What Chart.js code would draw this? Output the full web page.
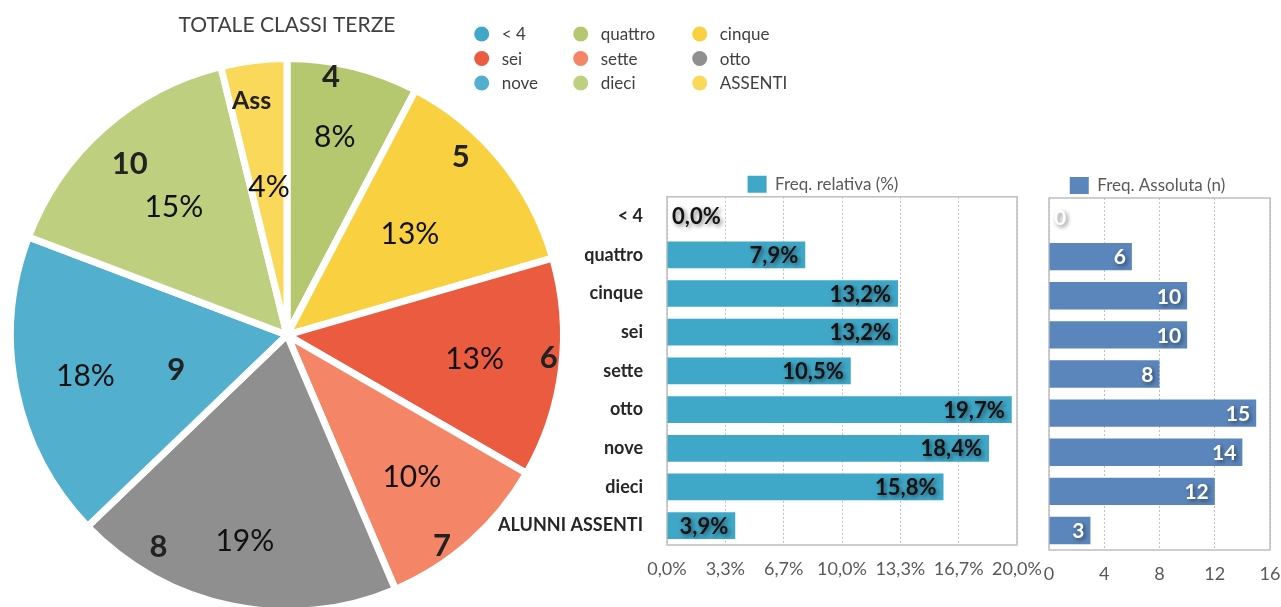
<!DOCTYPE html>
<html>
<head>
<meta charset="utf-8">
<script src="https://cdn.jsdelivr.net/npm/chart.js@4.4.1/dist/chart.umd.min.js"></script>
<style>
  html, body { margin: 0; padding: 0; background: #fff; width: 1281px; height: 607px; overflow: hidden; }
  .box { position: absolute; }
  #pieBox { left: 0; top: 0; width: 810px; height: 615px; }
  #relBox { left: 480px; top: 162px; width: 686px; height: 423px; }
  #absBox { left: 1025px; top: 167px; width: 256px; height: 423px; }
</style>
</head>
<body>
<div class="box" id="pieBox"><canvas id="pie"></canvas></div>
<div class="box" id="relBox"><canvas id="rel"></canvas></div>
<div class="box" id="absBox"><canvas id="abs"></canvas></div>
<script>
// dati
const categories = ['< 4', 'quattro', 'cinque', 'sei', 'sette', 'otto', 'nove', 'dieci', 'ALUNNI ASSENTI'];
const legendNames = ['< 4', 'quattro', 'cinque', 'sei', 'sette', 'otto', 'nove', 'dieci', 'ASSENTI'];
const sliceNames = ['<4', '4', '5', '6', '7', '8', '9', '10', 'Ass'];
const counts = [0, 6, 10, 10, 8, 15, 14, 12, 3];
const relative = [0.0, 7.9, 13.2, 13.2, 10.5, 19.7, 18.4, 15.8, 3.9];
const relTickLabels = ['0,0%', '3,3%', '6,7%', '10,0%', '13,3%', '16,7%', '20,0%'];
const absTickLabels = ['0', '4', '8', '12', '16'];

const sliceColors = ['#41A7C8', '#B5C76F', '#F9D03F', '#EA5B40', '#F48566', '#8F8F8F', '#52B0CE', '#BFCF80', '#FAD85A'];

Chart.defaults.font.family = 'Lato';

// posizione etichette fette: [frazione angolo, frazione raggio]
const namePos = [[0.5, 0.5], [0.35, 0.946], [0.36, 0.90], [0.46, 0.95], [0.64, 0.946], [0.785, 0.895], [0.41, 0.42], [0.48, 0.84], [0.38, 0.856]];
const pctPos = [[0.5, 0.5], [0.49, 0.736], [0.5, 0.574], [0.51, 0.684], [0.51, 0.686], [0.5, 0.762], [0.5, 0.744], [0.5, 0.617], [0.5, 0.538]];

const sliceLabels = {
  id: 'sliceLabels',
  afterDatasetsDraw(chart) {
    const ctx = chart.ctx;
    const data = chart.data.datasets[0].data;
    const total = data.reduce((a, b) => a + b, 0);
    ctx.save();
    ctx.textAlign = 'center';
    ctx.textBaseline = 'middle';
    chart.getDatasetMeta(0).data.forEach((arc, i) => {
      if (!data[i]) return;
      const put = (pos, text, font, color) => {
        const a = arc.startAngle + (arc.endAngle - arc.startAngle) * pos[0];
        const r = arc.outerRadius * pos[1];
        ctx.font = font;
        ctx.fillStyle = color;
        ctx.fillText(text, arc.x + Math.cos(a) * r, arc.y + Math.sin(a) * r);
      };
      put(namePos[i], sliceNames[i], i === 8 ? 'bold 25px Lato' : 'bold 31px Lato', '#222');
      put(pctPos[i], Math.round(data[i] / total * 100) + '%', '30px Lato', '#111');
    });
    ctx.restore();
  }
};

// legenda a griglia 3x3
const gridLegend = {
  id: 'gridLegend',
  afterDraw(chart, args, opts) {
    const ctx = chart.ctx;
    const colors = chart.data.datasets[0].backgroundColor;
    ctx.save();
    ctx.font = '17px Lato';
    ctx.textAlign = 'left';
    ctx.textBaseline = 'middle';
    chart.data.labels.forEach((name, i) => {
      const x = opts.x + opts.cols[i % 3];
      const y = opts.y + opts.rowGap * Math.floor(i / 3);
      ctx.fillStyle = colors[i];
      ctx.beginPath();
      ctx.arc(x, y, 7.5, 0, Math.PI * 2);
      ctx.fill();
      ctx.fillStyle = '#404040';
      ctx.fillText(name, x + 20, y + 1);
    });
    ctx.restore();
  }
};

new Chart(document.getElementById('pie'), {
  type: 'pie',
  data: {
    labels: legendNames,
    datasets: [{ data: counts, backgroundColor: sliceColors, borderColor: '#fff', borderWidth: 7 }]
  },
  options: {
    responsive: true,
    maintainAspectRatio: false,
    animation: false,
    layout: { padding: { left: 7, right: 243, top: 0, bottom: 0 } },
    plugins: {
      legend: { display: false },
      tooltip: { enabled: false },
      title: {
        display: true, text: 'TOTALE CLASSI TERZE', fullSize: false, color: '#404040',
        font: { size: 21, weight: 'normal' }, padding: { top: 13, bottom: 16.8 }
      },
      gridLegend: { x: 481.7, y: 34, rowGap: 24.5, cols: [0, 99, 218] }
    }
  },
  plugins: [sliceLabels, gridLegend]
});

// riquadro area grafico
const plotBox = {
  id: 'plotBox',
  beforeDatasetsDraw(chart) {
    const { ctx, chartArea: a } = chart;
    ctx.save();
    ctx.strokeStyle = '#BFBFBF';
    ctx.lineWidth = 1.5;
    ctx.strokeRect(a.left, a.top, a.right - a.left, a.bottom - a.top);
    ctx.restore();
  }
};

// etichette valori barre
const barValues = {
  id: 'barValues',
  afterDatasetsDraw(chart, args, opts) {
    const ctx = chart.ctx;
    const data = chart.data.datasets[0].data;
    ctx.save();
    ctx.font = 'bold ' + opts.size + 'px Lato';
    ctx.textBaseline = 'middle';
    ctx.fillStyle = opts.color;
    ctx.shadowColor = 'rgba(0,0,0,0.5)';
    ctx.shadowBlur = 4;
    ctx.shadowOffsetX = 2;
    ctx.shadowOffsetY = 2;
    chart.getDatasetMeta(0).data.forEach((bar, i) => {
      const text = opts.format(data[i]);
      const w = ctx.measureText(text).width;
      if (bar.x - bar.base >= w + 2 * opts.pad) {
        ctx.textAlign = 'right';
        ctx.fillText(text, bar.x - opts.pad, bar.y + 1);
      } else {
        ctx.textAlign = 'left';
        ctx.fillText(text, bar.base + 5, bar.y + 1);
      }
    });
    ctx.restore();
  }
};

const legendOpts = {
  position: 'top', maxHeight: 31,
  labels: { boxWidth: 19, boxHeight: 17, padding: 10, color: '#595959', font: { size: 17 } }
};

const fixX = s => { s.height = 40; s.paddingLeft = 0; s.paddingRight = 0; };

new Chart(document.getElementById('rel'), {
  type: 'bar',
  data: {
    labels: categories,
    datasets: [{ label: 'Freq. relativa (%)', data: relative, backgroundColor: '#3FA7C7', barPercentage: 0.69, categoryPercentage: 1 }]
  },
  options: {
    indexAxis: 'y',
    responsive: true,
    maintainAspectRatio: false,
    animation: false,
    layout: { padding: 0 },
    scales: {
      x: {
        min: 0, max: 20,
        ticks: { stepSize: 20 / 6, padding: 13, autoSkip: false, maxRotation: 0, color: '#595959', font: { size: 18 },
          callback: (v, i) => relTickLabels[i] },
        grid: { color: '#BFBFBF', drawTicks: false },
        border: { display: false, dash: [2, 2] },
        afterFit: fixX
      },
      y: {
        ticks: { padding: 24, color: '#262626', font: { size: 18, weight: 'bold' } },
        grid: { display: false, drawTicks: false },
        border: { display: false },
        afterFit: s => { s.width = 187; }
      },
      // asse vuoto a destra: serve solo a centrare la legenda come nell'originale
      yPad: {
        type: 'category', position: 'right', axis: 'y',
        ticks: { display: false },
        grid: { display: false, drawTicks: false },
        border: { display: false },
        afterFit: s => { s.width = 149; }
      }
    },
    plugins: {
      legend: legendOpts,
      tooltip: { enabled: false },
      barValues: { color: '#111', pad: 7, size: 22, format: v => v.toFixed(1).replace('.', ',') + '%' }
    }
  },
  plugins: [plotBox, barValues]
});

new Chart(document.getElementById('abs'), {
  type: 'bar',
  data: {
    labels: categories,
    datasets: [{ label: 'Freq. Assoluta (n)', data: counts, backgroundColor: '#5B86BC', barPercentage: 0.7, categoryPercentage: 1 }]
  },
  options: {
    indexAxis: 'y',
    responsive: true,
    maintainAspectRatio: false,
    animation: false,
    layout: { padding: { left: 0, right: 11, top: 0, bottom: 0 } },
    scales: {
      x: {
        min: 0, max: 16,
        ticks: { stepSize: 4, padding: 13, autoSkip: false, maxRotation: 0, color: '#595959', font: { size: 18 },
          callback: (v, i) => absTickLabels[i] },
        grid: { color: '#BFBFBF', drawTicks: false },
        border: { display: false, dash: [2, 2] },
        afterFit: fixX
      },
      y: {
        ticks: { display: false },
        grid: { display: false, drawTicks: false },
        border: { display: false },
        afterFit: s => { s.width = 24; }
      }
    },
    plugins: {
      legend: legendOpts,
      tooltip: { enabled: false },
      barValues: { color: '#fff', pad: 6, size: 21, format: v => String(v) }
    }
  },
  plugins: [plotBox, barValues]
});
</script>
</body>
</html>
